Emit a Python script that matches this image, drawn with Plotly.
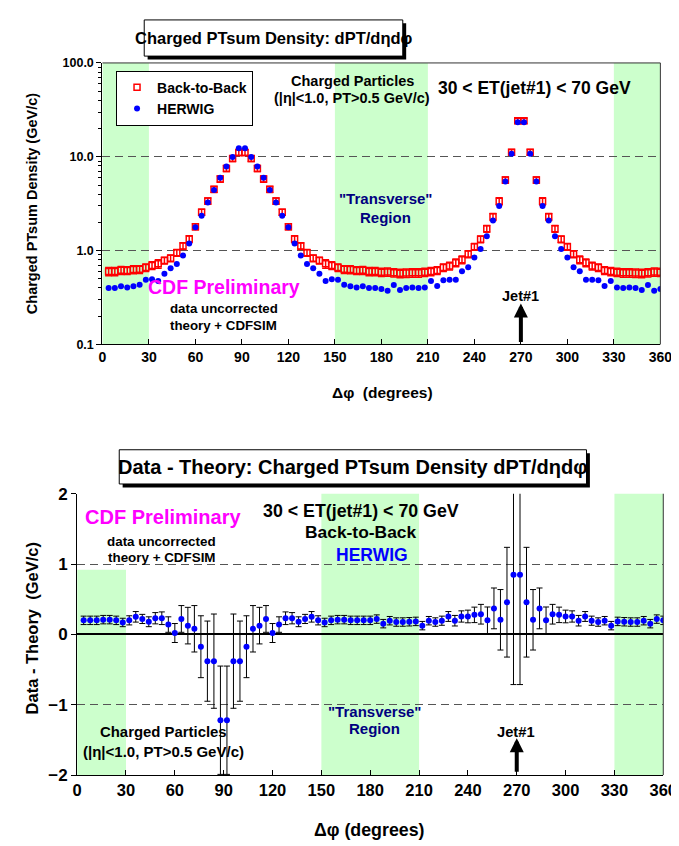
import math
import plotly.graph_objects as go

# ---------------- data ----------------
dphi = list(range(4, 361, 4))  # bin positions in degrees (90 bins)

herwig = [
    0.40, 0.40, 0.418, 0.405, 0.418, 0.432, 0.49, 0.495, 0.475, 0.566, 0.65,
    0.72, 0.89, 1.19, 1.78, 2.35, 3.26, 4.42, 5.97, 7.9, 9.95, 12.3,
    12.3, 9.95, 7.9, 5.97, 4.42, 3.26, 2.35, 1.78, 1.19, 0.89, 0.72,
    0.65, 0.566, 0.475, 0.495, 0.49, 0.432, 0.418, 0.405, 0.418, 0.40, 0.40,
    0.39,
    0.374, 0.429, 0.38, 0.40, 0.405, 0.40, 0.405, 0.475, 0.42, 0.483, 0.49,
    0.49, 0.604, 0.665, 0.845, 1.04, 1.42, 2.09, 2.99, 5.45, 10.75, 23.3,
    23.3, 10.75, 5.45, 2.99, 2.09, 1.42, 1.04, 0.845, 0.665, 0.604, 0.49,
    0.49, 0.483, 0.42, 0.475, 0.405, 0.40, 0.405, 0.40, 0.38, 0.429, 0.374,
    0.39,
]

back_to_back = [
    0.60, 0.60, 0.618, 0.615, 0.628, 0.632, 0.66, 0.695, 0.725, 0.786, 0.83,
    0.95, 1.12, 1.33, 1.80, 2.57, 3.385, 4.50, 5.795, 7.52, 9.57, 11.08,
    11.08, 9.57, 7.52, 5.795, 4.50, 3.385, 2.57, 1.80, 1.33, 1.12, 0.95,
    0.83, 0.786, 0.725, 0.695, 0.66, 0.632, 0.628, 0.615, 0.618, 0.60, 0.60,
    0.59,
    0.592, 0.582, 0.575, 0.576, 0.581, 0.58, 0.59, 0.60, 0.615, 0.659, 0.685,
    0.745, 0.80, 0.92, 1.10, 1.32, 1.71, 2.29, 3.36, 5.66, 11.21, 24.15,
    24.15, 11.21, 5.66, 3.36, 2.29, 1.71, 1.32, 1.10, 0.92, 0.80, 0.745,
    0.685, 0.659, 0.615, 0.60, 0.59, 0.58, 0.581, 0.576, 0.575, 0.582, 0.592,
    0.59,
]

data_minus_theory = [
    0.20, 0.20, 0.20, 0.21, 0.21, 0.20, 0.17, 0.20, 0.25, 0.22, 0.18,
    0.23, 0.23, 0.14, 0.02, 0.22, 0.125, 0.08, -0.175, -0.38, -0.38, -1.22,
    -1.22, -0.38, -0.38, -0.175, 0.08, 0.125, 0.22, 0.02, 0.14, 0.23, 0.23,
    0.18, 0.22, 0.25, 0.20, 0.17, 0.20, 0.21, 0.21, 0.20, 0.20, 0.20,
    0.20,
    0.218, 0.153, 0.195, 0.176, 0.176, 0.18, 0.185, 0.125, 0.195, 0.176, 0.195,
    0.255, 0.195, 0.255, 0.255, 0.278, 0.287, 0.20, 0.37, 0.208, 0.458, 0.847,
    0.847, 0.458, 0.208, 0.37, 0.20, 0.287, 0.278, 0.255, 0.255, 0.195, 0.255,
    0.195, 0.176, 0.195, 0.125, 0.185, 0.18, 0.176, 0.176, 0.195, 0.153, 0.218,
    0.20,
]

errors = [
    0.06, 0.06, 0.06, 0.06, 0.06, 0.06, 0.06, 0.065, 0.075, 0.065, 0.07,
    0.08, 0.09, 0.11, 0.135, 0.19, 0.26, 0.33, 0.44, 0.57, 0.67, 0.77,
    0.77, 0.67, 0.57, 0.44, 0.33, 0.26, 0.19, 0.135, 0.11, 0.09, 0.08,
    0.07, 0.065, 0.075, 0.065, 0.06, 0.06, 0.06, 0.06, 0.06, 0.06, 0.06,
    0.06,
    0.06, 0.06, 0.06, 0.06, 0.06, 0.06, 0.06, 0.06, 0.06, 0.06, 0.065,
    0.07, 0.075, 0.08, 0.09, 0.11, 0.14, 0.19, 0.29, 0.43, 0.78, 1.56,
    1.56, 0.78, 0.43, 0.29, 0.19, 0.14, 0.11, 0.09, 0.08, 0.075, 0.07,
    0.065, 0.06, 0.06, 0.06, 0.06, 0.06, 0.06, 0.06, 0.06, 0.06, 0.06,
    0.06,
]

x_ticks = list(range(0, 361, 30))
top_y_tickvals = [0.1, 1, 10, 100]
top_y_ticktext = ["0.1", "1.0", "10.0", "100.0"]
bottom_y_tickvals = [-2, -1, 0, 1, 2]
green_regions = [(0, 30), (150, 210), (330, 360)]

# ---------------- styling ----------------
W, H = 679, 846
FONT = "Liberation Sans"
GREEN = "#ccffcc"


def px(x):
    return x / W


def py(y):
    return 1 - y / H


fig = go.Figure()

fig.add_trace(go.Scatter(
    x=dphi, y=back_to_back, mode="markers", name="Back-to-Back",
    marker=dict(symbol="square-open", size=6, color="red", line=dict(width=1.5, color="red")),
    error_y=dict(type="data", array=errors, color="red", thickness=1.5, width=3.5),
    xaxis="x", yaxis="y"))
fig.add_trace(go.Scatter(
    x=dphi, y=herwig, mode="markers", name="HERWIG",
    marker=dict(symbol="circle", size=6, color="blue"),
    xaxis="x", yaxis="y"))
fig.add_trace(go.Scatter(
    x=dphi, y=data_minus_theory, mode="markers", showlegend=False,
    marker=dict(symbol="circle", size=6, color="blue"),
    error_y=dict(type="data", array=errors, color="black", thickness=1, width=3),
    xaxis="x2", yaxis="y2"))

bold = lambda size, color="black": dict(family=FONT, size=size, color=color, weight="bold")

minor_vals = [m * 10 ** e for e in (-1, 0, 1) for m in range(2, 10)]

fig.update_layout(
    width=W, height=H, autosize=False,
    margin=dict(l=0, r=0, t=0, b=0),
    paper_bgcolor="white", plot_bgcolor="white",
    font=dict(family=FONT, color="black"),
    showlegend=True,
    legend=dict(x=px(106), y=py(55), xanchor="left", yanchor="top",
                bgcolor="white", bordercolor="black", borderwidth=1,
                font=bold(14), itemwidth=30, tracegroupgap=0),
    xaxis=dict(domain=[px(92), px(666)], range=[0, 360], tickmode="array", tickvals=x_ticks,
               ticks="inside", ticklen=5, tickcolor="black", showline=True, linecolor="black",
               linewidth=1.2, showgrid=False, zeroline=False, tickfont=bold(14), anchor="y"),
    yaxis=dict(domain=[py(335), py(47)], type="log", range=[-1, 2], tickmode="array",
               tickvals=top_y_tickvals, ticktext=top_y_ticktext, ticks="outside", ticklen=5,
               tickcolor="black", showline=True, linecolor="black", linewidth=1.2,
               showgrid=True, gridcolor="#555555", griddash="8px,5px", gridwidth=1,
               zeroline=False, tickfont=bold(12.5), anchor="x",
               minor=dict(tickmode="array", tickvals=minor_vals, ticks="outside", ticklen=3,
                          tickcolor="black", showgrid=False)),
    xaxis2=dict(domain=[px(66), px(669)], range=[0, 360], tickmode="array", tickvals=x_ticks,
                ticks="inside", ticklen=5, tickcolor="black", showline=True, linecolor="black",
                linewidth=1.2, showgrid=False, zeroline=False, tickfont=bold(16.5), anchor="y2"),
    yaxis2=dict(domain=[py(775.5), py(487.7)], range=[-2, 2], tickmode="array",
                tickvals=bottom_y_tickvals, ticks="outside", ticklen=5, tickcolor="black",
                showline=True, linecolor="black", linewidth=1.2,
                showgrid=True, gridcolor="#555555", griddash="8px,5px", gridwidth=1,
                zeroline=True, zerolinecolor="black", zerolinewidth=2,
                tickfont=bold(17), anchor="x2"),
)

shapes = []
# green regions
for (a, b) in green_regions:
    shapes.append(dict(type="rect", xref="x", yref="y domain", x0=a, x1=b, y0=0, y1=1,
                       fillcolor=GREEN, line=dict(width=0), layer="below"))
    if a == 0:
        shapes.append(dict(type="rect", xref="x2", yref="y2", x0=a, x1=b, y0=-2, y1=0.92,
                           fillcolor=GREEN, line=dict(width=0), layer="below"))
    else:
        shapes.append(dict(type="rect", xref="x2", yref="y2 domain", x0=a, x1=b, y0=0, y1=1,
                           fillcolor=GREEN, line=dict(width=0), layer="below"))
# white box behind the "data uncorrected" text in lower panel
shapes.append(dict(type="rect", xref="paper", yref="paper", x0=px(68), x1=px(238),
                   y0=py(566), y1=py(522), fillcolor="white", line=dict(width=0), layer="between"))
# plot frame lines (top + right of upper panel, right of lower panel)
shapes.append(dict(type="line", xref="x domain", yref="y domain", x0=0, x1=1, y0=1, y1=1,
                   line=dict(color="#333333", width=1), layer="above"))
shapes.append(dict(type="line", xref="x domain", yref="y domain", x0=1, x1=1, y0=0, y1=1,
                   line=dict(color="#333333", width=1), layer="above"))
shapes.append(dict(type="line", xref="x2 domain", yref="y2 domain", x0=1, x1=1, y0=0, y1=1,
                   line=dict(color="#333333", width=1), layer="above"))
# title boxes with drop shadows
for (x0, y0, x1, y1) in [(135, 3, 401, 40), (109.3, 442.7, 590, 477.7)]:
    shapes.append(dict(type="rect", xref="paper", yref="paper", x0=px(x0 + 3.5), x1=px(x1 + 3.5),
                       y0=py(y1 + 3.5), y1=py(y0 + 3.5), fillcolor="black", line=dict(width=0)))
    shapes.append(dict(type="rect", xref="paper", yref="paper", x0=px(x0), x1=px(x1),
                       y0=py(y1), y1=py(y0), fillcolor="white", line=dict(color="black", width=1)))
fig.update_layout(shapes=shapes)


def txt(s, x, y, size, color="black", angle=0):
    fig.add_annotation(text=s, x=px(x), y=py(y), xref="paper", yref="paper", showarrow=False,
                       xanchor="center", yanchor="middle", textangle=angle,
                       font=bold(size, color))


# upper panel texts
txt("Charged PTsum Density: dPT/dηdφ", 268, 21.5, 16.5)
txt("Charged Particles", 349, 65, 14.5)
txt("(|η|<1.0, PT>0.5 GeV/c)", 349, 83, 14.5)
txt("30 &lt; ET(jet#1) &lt; 70 GeV", 536, 73, 17.5)
txt("\"Transverse\"", 383, 186, 15, "#000080")
txt("Region", 383, 205.5, 15, "#000080")
txt("CDF Preliminary", 217, 276, 19.5, "#ff00ff")
txt("data uncorrected", 217, 298, 13.3)
txt("theory + CDFSIM", 217, 316, 13.3)
txt("Jet#1", 522, 285, 14.5)
txt("Δφ  (degrees)", 380, 384, 15.5)
txt("Charged PTsum Density (GeV/c)", 19, 191, 14.5, angle=-90)

# lower panel texts
txt("Data - Theory: Charged PTsum Density dPT/dηdφ", 350, 460.5, 20)
txt("CDF Preliminary", 154, 511.7, 20, "#ff00ff")
txt("data uncorrected", 153, 536.7, 13.4)
txt("theory + CDFSIM", 153, 553.3, 13.4)
txt("30 &lt; ET(jet#1) &lt; 70 GeV", 358.5, 505, 17.8)
txt("Back-to-Back", 357, 527.3, 17.4)
txt("HERWIG", 369, 550, 17.5, "#0000ff")
txt("Charged Particles", 155, 731.7, 14.9)
txt("(|η|<1.0, PT>0.5 GeV/c)", 154.5, 751, 15)
txt("\"Transverse\"", 372, 710, 15, "#000080")
txt("Region", 372, 728, 15, "#000080")
txt("Jet#1", 517, 731.7, 14.7)
txt("Δφ (degrees)", 367, 831.7, 17.8)
txt("Data - Theory  (GeV/c)", 20, 625, 16.5, angle=-90)

# Jet#1 arrows
fig.add_annotation(x=270, y=math.log10(0.274), xref="x", yref="y", text="", showarrow=True,
                   ax=0, ay=40, arrowhead=2, arrowsize=0.7, arrowwidth=4, arrowcolor="black",
                   standoff=0)
fig.add_annotation(x=270, y=-1.476, xref="x2", yref="y2", text="", showarrow=True,
                   ax=0, ay=35, arrowhead=2, arrowsize=0.7, arrowwidth=4, arrowcolor="black",
                   standoff=0)

fig.write_html("out.html")
